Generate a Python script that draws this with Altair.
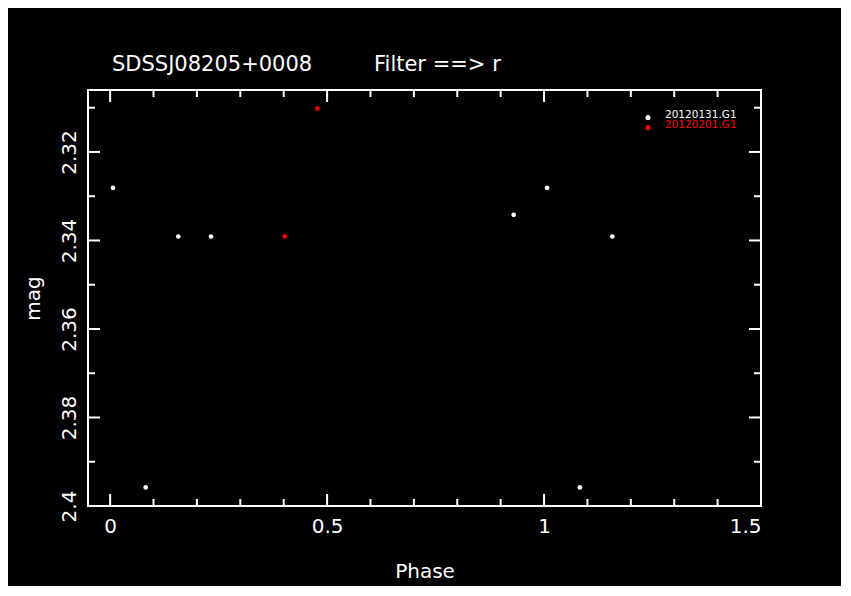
import altair as alt
import pandas as pd

# ---- data ----
white_phase = [0.0065, 0.082, 0.157, 0.2325, 0.930, 1.0070, 1.0825, 1.1575]
white_mag = [2.3281, 2.3958, 2.3391, 2.3391, 2.3342, 2.3281, 2.3958, 2.3391]
red_phase = [0.4023, 0.4776]
red_mag = [2.3391, 2.3102]
series_names = ["20120131.G1", "20120201.G1"]
series_colors = ["#ffffff", "#ff0000"]

x_major = [0, 0.5, 1.0, 1.5]
x_minor = [0.1, 0.2, 0.3, 0.4, 0.6, 0.7, 0.8, 0.9, 1.1, 1.2, 1.3, 1.4]
y_major = [2.32, 2.34, 2.36, 2.38, 2.40]
y_minor = [2.31, 2.33, 2.35, 2.37, 2.39]

title_left = "SDSSJ08205+0008"
title_right = "Filter ==> r"

W, H = 673, 416
FONT = "DejaVu Sans"

pts = pd.DataFrame({
    "phase": white_phase + red_phase,
    "mag": white_mag + red_mag,
    "set": [series_names[0]] * len(white_phase) + [series_names[1]] * len(red_phase),
})

xscale = alt.Scale(domain=[-0.051, 1.5], nice=False, zero=False)
yscale = alt.Scale(domain=[2.306, 2.40], nice=False, zero=False, reverse=True)
cscale = alt.Scale(domain=series_names, range=series_colors)

xaxis = alt.Axis(values=x_major, format="~g", ticks=False, domain=False, grid=False,
                 labelColor="white", labelFont=FONT, labelFontSize=20, labelPadding=10,
                 title="Phase", titleColor="white", titleFont=FONT, titleFontSize=20,
                 titleFontWeight="normal", titlePadding=25)
yaxis = alt.Axis(values=y_major, format="~g", ticks=False, domain=False, grid=False,
                 labelColor="white", labelFont=FONT, labelFontSize=20, labelAngle=270,
                 labelAlign="center", labelBaseline="bottom", labelPadding=9,
                 title="mag", titleColor="white", titleFont=FONT, titleFontSize=20,
                 titleFontWeight="normal", titlePadding=16)

points = alt.Chart(pts).mark_circle(size=22, opacity=1).encode(
    x=alt.X("phase:Q", scale=xscale, axis=xaxis),
    y=alt.Y("mag:Q", scale=yscale, axis=yaxis),
    color=alt.Color("set:N", scale=cscale, legend=None),
)

def xticks(vals, length):
    df = pd.DataFrame({"v": vals})
    bottom = alt.Chart(df).mark_rule(color="white", strokeWidth=2).encode(
        x=alt.X("v:Q", scale=xscale), y=alt.value(H), y2=alt.value(H - length))
    top = alt.Chart(df).mark_rule(color="white", strokeWidth=2).encode(
        x=alt.X("v:Q", scale=xscale), y=alt.value(0), y2=alt.value(length))
    return [bottom, top]

def yticks(vals, length):
    df = pd.DataFrame({"v": vals})
    left = alt.Chart(df).mark_rule(color="white", strokeWidth=2).encode(
        y=alt.Y("v:Q", scale=yscale), x=alt.value(0), x2=alt.value(length))
    right = alt.Chart(df).mark_rule(color="white", strokeWidth=2).encode(
        y=alt.Y("v:Q", scale=yscale), x=alt.value(W), x2=alt.value(W - length))
    return [left, right]

ticks = xticks(x_major, 12) + xticks(x_minor, 7) + yticks(y_major, 12) + yticks(y_minor, 7)

titles = pd.DataFrame({"t": [title_left, title_right], "px": [24, 286]})
title_layer = alt.Chart(titles).mark_text(
    align="left", baseline="middle", font=FONT, fontSize=21, color="white"
).encode(x=alt.X("px:Q", scale=None), y=alt.value(-25), text="t:N")

leg = pd.DataFrame({"name": series_names, "py": [27.5, 37.5]})
leg_dots = alt.Chart(leg).mark_circle(size=26, opacity=1).encode(
    x=alt.value(560), y=alt.Y("py:Q", scale=None),
    color=alt.Color("name:N", scale=cscale, legend=None))
leg_text = alt.Chart(leg).mark_text(
    align="left", baseline="middle", font=FONT, fontSize=10.5, dy=-3
).encode(x=alt.value(577), y=alt.Y("py:Q", scale=None), text="name:N",
         color=alt.Color("name:N", scale=cscale, legend=None))

chart = alt.layer(points, *ticks, title_layer, leg_dots, leg_text).properties(
    width=W, height=H,
    background="black",
    padding={"left": 80, "top": 82, "right": 80, "bottom": 80},
    autosize=alt.AutoSizeParams(type="none"),
    usermeta={"embedOptions": {
        "defaultStyle": "html, body { background-color: #000000 !important; }"
    }},
).configure_view(stroke="white", strokeWidth=2)

chart.save("out.html", embed_options={"renderer": "svg", "actions": False})
